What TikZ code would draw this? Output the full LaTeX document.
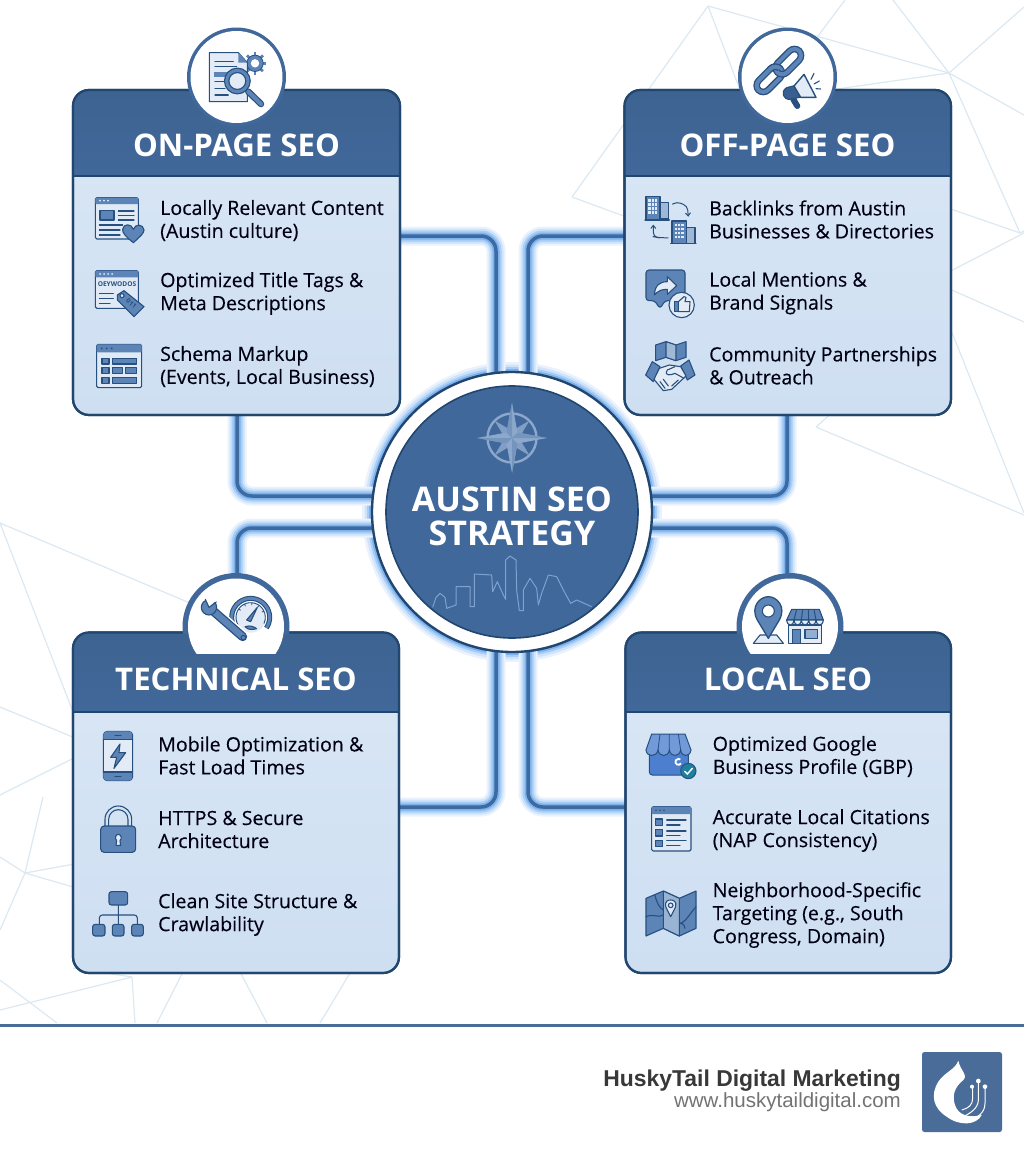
\documentclass[tikz,border=0pt]{standalone}
\usepackage{fontspec}
\setmainfont{Open Sans}
\newfontfamily\itemf[FakeBold=0.25]{Open Sans}
\newfontfamily\footf{Liberation Sans}
\usetikzlibrary{arrows.meta}
\definecolor{head}{HTML}{41689A}
\definecolor{headT}{HTML}{3D6391}
\definecolor{edge}{HTML}{21466F}
\definecolor{bodyT}{HTML}{DAE7F5}
\definecolor{bodyB}{HTML}{CEDFF2}
\definecolor{iconD}{HTML}{27507F}
\definecolor{iconM}{HTML}{5C84B6}
\definecolor{iconL}{HTML}{E3ECF6}
\definecolor{net}{HTML}{DCE9F2}
\definecolor{core}{HTML}{3D6A9F}
\definecolor{sky}{HTML}{7FA2CF}
\definecolor{star}{HTML}{8CA8CC}
\definecolor{gbp}{HTML}{4C7FCE}
\definecolor{foot}{HTML}{4A6C98}
\definecolor{glowA}{HTML}{EAF3FD}
\definecolor{glowB}{HTML}{CFE3FA}
\definecolor{glowC}{HTML}{A8CEF5}
\definecolor{glowD}{HTML}{7DB2EE}
\tikzset{
  Z/.style 2 args={shift={(#1,#2)},x=.33333pt,y=-.33333pt},
  il/.style={draw=iconD,line width=1.1pt,line join=round,line cap=round},
  im/.style={il,fill=iconM},
  ill/.style={il,fill=iconL},
  idk/.style={il,fill=iconD},
  nl/.style={draw=net,line width=1.2pt},
  wire/.style={draw=core,line width=3.5pt,rounded corners=15pt,
    preaction={draw=glowA,line width=19pt},
    preaction={draw=glowB,line width=15pt},
    preaction={draw=glowC,line width=11pt},
    preaction={draw=glowD,line width=7pt}},
  cardbox/.style={rectangle,rounded corners=16pt,draw=edge,line width=2.2pt,
    top color=bodyT,bottom color=bodyB,inner sep=0pt,outer sep=0pt,anchor=north west},
  cardtitle/.style={text=white,font=\bfseries\fontsize{31.2}{33}\selectfont,anchor=base,inner sep=0pt},
  hubtitle/.style={anchor=base,text=white,inner sep=0pt,font=\bfseries\fontsize{34}{36}\selectfont},
  itemtext/.style={align=left,anchor=west,inner sep=0pt,text=black!92!blue,
    font=\itemf\fontsize{19.6}{23}\selectfont},
  ringo/.style={circle,fill=head,inner sep=0pt,outer sep=0pt},
  ringi/.style={circle,fill=white,inner sep=0pt,outer sep=0pt}
}
\pgfdeclarelayer{back}
\pgfsetlayers{back,main}
\newcommand{\mkcard}[7]{% name x1 y1 x2 y2 div title
  \pgfmathsetmacro{\cw}{#4-#2}\pgfmathsetmacro{\ch}{#5-#3}
  \node[cardbox,minimum width=\cw pt,minimum height=\ch pt] (#1) at (#2,#3) {};
  \begin{scope}
    \clip[rounded corners=16pt] (#2,#3) rectangle (#4,#5);
    \fill[top color=headT,bottom color=head] (#2,#3) rectangle (#4,#6);
    \draw[edge,line width=1.8pt] (#2,#6) -- (#4,#6);
  \end{scope}
  \draw[edge,line width=2.2pt,rounded corners=16pt] (#2,#3) rectangle (#4,#5);
}
\newcommand{\gearI}[3]{%
  \foreach \a in {0,45,...,315}{\draw[iconM,line width=2.8pt] (#1,#2) ++(\a:#3*0.7) -- ++(\a:#3*0.42);}
  \draw[iconD,fill=iconM,line width=.8pt] (#1,#2) circle[radius=#3*0.82];
  \fill[white] (#1,#2) circle[radius=#3*0.42];
}
\begin{document}
\begin{tikzpicture}[x=1pt,y=-1pt]
\useasboundingbox (0,0) rectangle (1024,1154);
% ---------- cards, hub ----------
\mkcard{onpage}{73}{90}{400}{415}{176}{}
\mkcard{offpage}{624.5}{90}{951}{415}{176}{}
\mkcard{technical}{73}{632.5}{399}{973}{712}{}
\mkcard{local}{625.5}{632.5}{951}{973}{712}{}
% rings
\node[ringo,minimum size=99pt] (ring1) at (236.5,77) {};
\node[ringi,minimum size=92pt] (ring1i) at (236.5,77) {};
\node[ringo,minimum size=99pt] (ring2) at (787.5,77) {};
\node[ringi,minimum size=92pt] (ring2i) at (787.5,77) {};
\begin{scope}
  \clip (100,560) rectangle (400,633);
  \node[ringo,minimum size=107pt] (ring3) at (236,626.5) {};
\end{scope}
\begin{scope}
  \clip (700,560) rectangle (900,633);
  \node[ringo,minimum size=107pt] (ring4) at (790,626.5) {};
\end{scope}
\begin{scope}
  \clip (100,560) rectangle (900,653);
  \node[ringi,minimum size=96pt] (ring3i) at (236,626.5) {};
  \node[ringi,minimum size=96pt] (ring4i) at (790,626.5) {};
\end{scope}
% titles
\node[cardtitle] (t1) at (236.5,156) {ON-PAGE SEO};
\node[cardtitle] (t2) at (787.5,156) {OFF-PAGE SEO};
\node[cardtitle] (t3) at (236,690) {TECHNICAL SEO};
\node[cardtitle] (t4) at (788,690) {LOCAL SEO};
% items
\node[itemtext] (a1) at (160,220.5) {Locally Relevant Content\\(Austin culture)};
\node[itemtext] (a2) at (160,293.5) {Optimized Title Tags \&\\Meta Descriptions};
\node[itemtext] (a3) at (160,366.5) {Schema Markup\\(Events, Local Business)};
\node[itemtext] (b1) at (709,219.5) {Backlinks from Austin\\Businesses \& Directories};
\node[itemtext] (b2) at (709,293) {Local Mentions \&\\Brand Signals};
\node[itemtext] (b3) at (709,365.5) {Community Partnerships\\\& Outreach};
\node[itemtext] (c1) at (158,755.5) {Mobile Optimization \&\\Fast Load Times};
\node[itemtext] (c2) at (158,829.5) {HTTPS \& Secure\\Architecture};
\node[itemtext] (c3) at (158,914.5) {Clean Site Structure \&\\Crawlability};
\node[itemtext] (d1) at (712.5,756.5) {Optimized Google\\Business Profile (GBP)};
\node[itemtext] (d2) at (712.5,830.5) {Accurate Local Citations\\(NAP Consistency)};
\node[itemtext] (d3) at (712.5,915) {Neighborhood-Specific\\Targeting (e.g., South\\Congress, Domain)};
% hub
\node[circle,minimum size=280pt,fill=white,draw=edge,line width=2.4pt,inner sep=0pt,outer sep=0pt] (hub) at (512,512) {};
\node[circle,minimum size=252pt,fill=head,draw=edge,line width=1.6pt,inner sep=0pt,outer sep=0pt] (hubdisc) at (512,512) {};
\node[hubtitle] (h1) at (512,511) {AUSTIN SEO};
\node[hubtitle] (h2) at (512,545) {STRATEGY};
% compass
\begin{scope}[shift={(512,438)}]
  \draw[star,line width=2.4pt] (0,0) circle[radius=24.5];
  \fill[head] (0,0) circle[radius=13];
  \foreach \r in {45,135,225,315}{
    \fill[star!85!head,rotate=\r] (0,-25) -- (5,-5) -- (-5,-5) -- cycle;}
  \fill[star] (0,-35) -- (5.5,-5.5) -- (35,0) -- (5.5,5.5) -- (0,35) -- (-5.5,5.5) -- (-35,0) -- (-5.5,-5.5) -- cycle;
  \fill[star!70!head] (0,-35) -- (0,0) -- (-5.5,-5.5) -- cycle (35,0) -- (0,0) -- (5.5,-5.5) -- cycle
    (0,35) -- (0,0) -- (5.5,5.5) -- cycle (-35,0) -- (0,0) -- (-5.5,5.5) -- cycle;
\end{scope}
% skyline
\begin{scope}[Z={360}{360}]
  \draw[sky,line width=1pt,line join=round] (218,742) -- (228,712) -- (240,700) -- (255,712) -- (260,745) -- (288,735) -- (288,680) -- (330,680) -- (330,740) -- (343,740) -- (343,642) -- (395,645) -- (398,695) -- (412,665) -- (430,705) -- (437,718) -- (437,600) -- (450,588) -- (468,600) -- (470,690) -- (478,752) -- (490,752) -- (490,690) -- (510,655) -- (530,685) -- (535,735) -- (545,700) -- (565,645) -- (590,650) -- (610,690) -- (632,730) -- (650,720) -- (695,740);
\end{scope}
% ---------- on-page icons ----------
\begin{scope}[Z={60}{20}]
  % doc
  \gearI{585}{130}{30}
  \draw[ill] (448,98) -- (535,98) -- (562,128) -- (562,245) -- (448,245) -- cycle;
  \fill[iconM] (535,98) -- (562,128) -- (535,128) -- cycle;
  \foreach \yy/\xx in {125/520,140/530,185/495,205/495,225/505}{\draw[il] (465,\yy) -- (\xx,\yy);}
  \fill[iconM] (462,155) rectangle (512,172);
  \draw[iconD,line width=6.5pt,line cap=round] (565,215) -- (603,252);
  \draw[iconM,line width=4.2pt,line cap=round] (565,215) -- (603,252);
  \draw[iconD,fill=iconL,line width=5.5pt] (532,183) circle[radius=32];
  \draw[iconM,line width=3pt] (532,183) circle[radius=32];
  % browser + heart
  \draw[il,fill=iconL!60!bodyT,rounded corners=1.5pt] (106,533) rectangle (235,657);
  \fill[iconM,rounded corners=1pt] (106,533) rectangle (235,552);
  \foreach \xx in {120,132,144}{\fill[iconL] (\xx,542) circle[radius=3];}
  \draw[il,fill=iconM] (120,572) rectangle (162,600);
  \foreach \yy in {573,587,600}{\draw[il] (175,\yy) -- (222,\yy);}
  \foreach \yy/\xx in {615/188,630/180,645/180}{\draw[il] (118,\yy) -- (\xx,\yy);}
  \draw[im] (220,668) .. controls (195,648) and (187,638) .. (188,628) .. controls (190,610) and (215,610) .. (220,628) .. controls (226,610) and (250,612) .. (252,630) .. controls (252,640) and (240,650) .. (220,668) -- cycle;
  % keywords browser
  \draw[il,fill=iconL!60!bodyT,rounded corners=1.5pt] (106,752) rectangle (235,865);
  \fill[iconM,rounded corners=1pt] (106,752) rectangle (235,772);
  \foreach \xx in {120,132,144,156}{\fill[iconL] (\xx,762) circle[radius=3];}
  \node[inner sep=0pt,text=iconD,font=\bfseries\fontsize{6.6}{7}\selectfont] (kw) at (171,793) {OEYWODOS};
  \foreach \yy/\xx in {820/160,835/160,850/150}{\draw[il] (118,\yy) -- (\xx,\yy);}
  \draw[im] (172,825) -- (192,812) -- (252,860) -- (222,890) -- (172,840) -- cycle;
  \draw[il,fill=iconL] (186,827) circle[radius=6];
  \node[inner sep=0pt,text=iconD,rotate=-40,font=\bfseries\fontsize{6.5}{7}\selectfont] (tg) at (214,851) {011};
  % schema window
  \draw[il,fill=iconL!60!bodyT,rounded corners=1.5pt] (110,973) rectangle (245,1103);
  \fill[iconM,rounded corners=1pt] (110,973) rectangle (245,997);
  \foreach \xx in {125,140,155}{\fill[iconD] (\xx,985) circle[radius=3];}
  \foreach \aa/\bb/\cc/\dd in {126/1015/147/1032,157/1015/230/1032,126/1043/147/1060,157/1043/188/1060,196/1043/230/1060,126/1072/147/1090,157/1072/230/1090}{\draw[im] (\aa,\bb) rectangle (\cc,\dd);}
\end{scope}
% ---------- off-page icons ----------
\begin{scope}[Z={610}{20}]
  \foreach \cx/\cy in {478/178,535/125}{
    \begin{scope}[shift={(\cx,\cy)},rotate=45]
      \draw[iconD,line width=6.6pt,rounded corners=7pt] (-46,-20) rectangle (46,20);
      \draw[iconM,line width=4pt,rounded corners=7pt] (-46,-20) rectangle (46,20);
    \end{scope}}
  \begin{scope}[shift={(478,178)},rotate=45]
    \clip (20,-30) rectangle (60,0);
    \draw[iconD,line width=6.6pt,rounded corners=7pt] (-46,-20) rectangle (46,20);
    \draw[iconM,line width=4pt,rounded corners=7pt] (-46,-20) rectangle (46,20);
  \end{scope}
  % megaphone
  \draw[iconD,line width=6pt,line cap=round] (550,238) -- (562,258);
  \draw[im,fill=iconD!70!iconM] (553,197) -- (530,203) .. controls (510,215) and (520,240) .. (540,238) -- (570,232) -- cycle;
  \draw[il,fill=iconL,line width=1.4pt] (552,198) -- (582,163) -- (618,232) -- (572,232) -- cycle;
  \draw[iconD,line width=1.1pt,line cap=round] (603,178) -- (612,160) (612,192) -- (628,183) (618,206) -- (632,207);
  % buildings
  \draw[im] (108,530) rectangle (150,600);
  \draw[il,fill=iconL!50!iconM] (150,548) rectangle (175,597);
  \draw[il] (105,600) -- (178,600);
  \foreach \xx in {115,125,135}{\foreach \yy in {538,550,562,574}{\fill[iconL] (\xx,\yy) rectangle ++(7,7);}}
  \draw[im] (186,603) rectangle (230,670);
  \draw[il,fill=iconL!50!iconM] (230,622) rectangle (255,670);
  \draw[il] (182,670) -- (258,670);
  \foreach \xx in {194,204,214}{\foreach \yy in {612,624,636,648}{\fill[iconL] (\xx,\yy) rectangle ++(7,7);}}
  \draw[iconD,line width=1pt,-{Straight Barb[length=3pt,width=5pt]},rounded corners=4pt] (187,553) -- (200,545) -- (232,558) -- (235,590);
  \draw[iconD,line width=1pt,-{Straight Barb[length=3pt,width=5pt]},rounded corners=4pt] (175,654) -- (140,652) -- (130,650) -- (130,614);
  % share + thumb
  \draw[im,rounded corners=3pt] (108,750) -- (225,750) -- (225,842) -- (165,842) -- (150,866) -- (134,842) -- (108,842) -- cycle;
  \draw[il,fill=iconL] (133,825) .. controls (135,795) and (150,785) .. (172,785) -- (172,770) -- (200,797) -- (172,823) -- (172,808) .. controls (155,808) and (145,812) .. (133,825) -- cycle;
  \draw[il,fill=iconL] (215,855) circle[radius=38];
  \draw[im] (193,845) rectangle (205,875);
  \draw[ill] (205,845) -- (222,830) -- (228,832) -- (225,845) -- (240,845) -- (238,875) -- (205,875) -- cycle;
  % community
  \draw[im] (137,975) -- (168,965) -- (198,975) -- (228,965) -- (228,1012) -- (198,1022) -- (168,1012) -- (137,1022) -- cycle;
  \draw[il,fill=iconL!50!iconM] (168,965) -- (198,975) -- (198,1022) -- (168,1012) -- cycle;
  \draw[im] (107,1065) -- (127,1025) -- (150,1040) -- (130,1085) -- cycle;
  \draw[im] (212,1038) -- (237,1020) -- (255,1065) -- (232,1080) -- cycle;
  \draw[ill] (148,1045) -- (178,1035) -- (212,1040) -- (228,1068) -- (185,1108) -- (160,1112) -- (132,1078) -- cycle;
  \draw[il] (172,1050) -- (195,1040) (172,1050) .. controls (160,1070) and (185,1065) .. (195,1060) -- (222,1075) (205,1080) -- (185,1098) (150,1085) -- (165,1105) (160,1078) -- (175,1098);
\end{scope}
% ---------- technical icons ----------
\begin{scope}[Z={60}{570}]
  % gauge
  \fill[iconL] (572,142) circle[radius=46];
  \draw[iconD,line width=5pt] (572,142) ++(143:57) arc[start angle=143,end angle=394,radius=57];
  \draw[iconM,line width=2.8pt] (572,142) ++(143:57) arc[start angle=143,end angle=394,radius=57];
  \draw[iconD,line width=.9pt] (572,142) ++(150:44) arc[start angle=150,end angle=385,radius=44];
  \foreach \a in {215,245,275,305,335}{\draw[iconD,line width=.8pt] (572,142) ++(\a:44) -- ++(\a:-7);}
  \draw[im] (560,150) -- (592,112) -- (572,155) -- cycle;
  \draw[im] (555,170) .. controls (570,165) and (582,170) .. (590,176) .. controls (575,180) and (565,180) .. (555,170) -- cycle;
  % wrench
  \draw[white,line width=12pt,line cap=round] (462,125) -- (548,200);
  \draw[iconD,line width=9pt,line cap=round] (447,112) -- (548,200);
  \draw[iconM,line width=6.4pt,line cap=round] (447,112) -- (548,200);
  \draw[im] (447,112) circle[radius=23];
  \fill[white] (447,112) -- (432,76) -- (478,82) -- cycle;
  \draw[il] (436,88) -- (447,112) -- (469,96);
  \draw[iconD,line width=1pt] (550,203) circle[radius=7];
  % phone
  \draw[ill,rounded corners=4pt] (130,484) rectangle (218,632);
  \begin{scope}
    \clip[rounded corners=4pt] (130,484) rectangle (218,632);
    \fill[iconM] (130,484) rectangle (218,509);
    \fill[iconM] (130,606) rectangle (218,632);
  \end{scope}
  \draw[il] (130,509) -- (218,509) (130,606) -- (218,606) (165,496) -- (183,496) (165,619) -- (183,619);
  \draw[im] (180,522) -- (152,562) -- (170,562) -- (162,595) -- (197,548) -- (177,548) -- cycle;
  % lock
  \draw[il] (135,768) -- (135,748) arc[start angle=180,end angle=360,radius=40] -- (215,768);
  \draw[il] (146,768) -- (146,748) arc[start angle=180,end angle=360,radius=29] -- (204,768);
  \draw[im,rounded corners=3.5pt] (122,768) rectangle (227,847);
  \draw[ill] (170,812) -- (168,826) -- (182,826) -- (180,812) .. controls (187,805) and (183,793) .. (175,793) .. controls (167,793) and (163,805) .. (170,812) -- cycle;
  % sitemap
  \draw[il] (175,1005) -- (175,1065) (118,1063) -- (118,1045) [rounded corners=3pt] -- (118,1035) -- (232,1035) -- (232,1063);
  \draw[im,rounded corners=2.5pt] (147,965) rectangle (203,1005);
  \draw[im,rounded corners=2.5pt] (98,1063) rectangle (135,1098);
  \draw[im,rounded corners=2.5pt] (157,1063) rectangle (192,1098);
  \draw[im,rounded corners=2.5pt] (215,1063) rectangle (250,1098);
\end{scope}
% ---------- local icons ----------
\begin{scope}[Z={610}{570}]
  % pin
  \draw[il,fill=iconL] (430,220) -- (450,195) -- (500,195) -- (520,220) -- cycle;
  \draw[im,line width=1.3pt] (475,205) -- (442,150) .. controls (420,110) and (450,80) .. (475,80) .. controls (500,80) and (530,110) .. (508,150) -- cycle;
  \draw[il,fill=white] (475,123) circle[radius=18];
  % store
  \draw[ill] (535,165) rectangle (635,220);
  \draw[im] (548,178) rectangle (572,220);
  \draw[il,fill=iconL!40!iconM] (585,178) rectangle (622,205);
  \draw[im] (545,118) -- (628,118) -- (640,150) -- (530,150) -- cycle;
  \draw[il,fill=iconL] (530,150) .. controls (532,170) and (550,170) .. (552,150) .. controls (554,170) and (572,170) .. (574,150) .. controls (576,170) and (594,170) .. (596,150) .. controls (598,170) and (616,170) .. (618,150) .. controls (620,170) and (638,170) .. (640,150) -- cycle;
  \foreach \xa/\xb in {560/552,578/574,595/596,612/618}{\draw[iconD,line width=1pt] (\xa,118) -- (\xb,150);}
  % GBP
  \draw[iconD,line width=1pt,fill=gbp,rounded corners=3pt] (118,535) rectangle (235,615);
  \draw[iconD,line width=1pt,fill=gbp!75!iconL] (125,492) -- (225,492) -- (243,540) .. controls (240,562) and (215,562) .. (212,540) .. controls (208,562) and (182,562) .. (178,540) .. controls (175,562) and (148,562) .. (144,540) .. controls (140,562) and (110,562) .. (108,540) -- cycle;
  \draw[iconD,line width=.8pt] (150,492) -- (144,540) (178,492) -- (178,540) (205,492) -- (212,540);
  \draw[white,line width=1.8pt] (213,580) arc[start angle=30,end angle=310,radius=9];
  \draw[iconD,line width=1pt,fill=teal!60!gbp] (235,603) circle[radius=23];
  \draw[white,line width=1.4pt,line cap=round] (224,604) -- (232,612) -- (247,595);
  % citations
  \draw[il,fill=iconL!60!bodyT,rounded corners=1.5pt] (125,710) rectangle (243,843);
  \fill[iconM,rounded corners=1pt] (125,710) rectangle (243,732);
  \foreach \xx in {138,150,162}{\fill[iconD] (\xx,721) circle[radius=2.6];}
  \foreach \yy in {747,779,811}{\draw[im] (137,\yy) rectangle ++(21,19);}
  \foreach \yy/\xx in {750/228,765/210,783/228,797/210,812/228,826/210}{\draw[il] (170,\yy) -- (\xx,\yy);}
  % map
  \draw[im] (108,985) -- (160,963) -- (208,985) -- (258,963) -- (258,1075) -- (208,1098) -- (160,1075) -- (108,1098) -- cycle;
  \draw[il,fill=iconL!45!iconM] (160,963) -- (208,985) -- (208,1098) -- (160,1075) -- cycle;
  \draw[il] (108,1040) .. controls (130,1030) and (145,1045) .. (160,1035) (208,1060) .. controls (225,1060) and (240,1030) .. (258,1010) (225,1075) .. controls (222,1060) and (215,1060) .. (208,1060) (135,975) .. controls (140,1000) and (150,1015) .. (160,1020);
  \draw[il,fill=iconL!60!bodyT] (182,1040) -- (168,1012) .. controls (162,992) and (176,990) .. (182,990) .. controls (188,990) and (202,992) .. (196,1012) -- cycle;
  \draw[il] (182,1006) circle[radius=7];
\end{scope}
% ---------- footer ----------
\fill[foot] (0,1023.5) rectangle (1024,1026.5);
\node[anchor=base east,inner sep=0pt,text=black!78,font=\footf\bfseries\fontsize{22.9}{26}\selectfont] (brand) at (901,1086) {HuskyTail Digital Marketing};
\node[anchor=base east,inner sep=0pt,text=black!55,font=\footf\fontsize{20.5}{23}\selectfont] (url) at (901,1107) {www.huskytaildigital.com};
\node[rectangle,rounded corners=2.5pt,fill=foot,minimum size=80pt,inner sep=0pt,outer sep=0pt] (logo) at (962,1092) {};
\begin{scope}[Z={580}{1020}]
  \fill[white] (1135,122) .. controls (1140,150) and (1165,165) .. (1150,180) .. controls (1125,200) and (1115,225) .. (1125,255) .. controls (1135,285) and (1165,295) .. (1205,285) .. controls (1190,315) and (1140,320) .. (1100,290) .. controls (1060,265) and (1050,225) .. (1075,185) .. controls (1095,155) and (1125,150) .. (1135,122) -- cycle;
  \draw[white,line width=1pt] (1195,185) -- (1195,240) .. controls (1195,265) and (1170,280) .. (1150,290) (1178,200) -- (1178,235) (1178,235) .. controls (1178,255) and (1165,265) .. (1145,270) (1215,200) -- (1215,250) .. controls (1215,280) and (1190,295) .. (1165,300);
  \fill[white] (1195,183) circle[radius=7] (1176,200) circle[radius=6] (1215,200) circle[radius=7];
\end{scope}
% ---------- back layer ----------
\begin{pgfonlayer}{back}
  \fill[white] (0,0) rectangle (1024,1154);
  % network, top right
  \coordinate (nA) at (708,6); \coordinate (nB) at (949,73); \coordinate (nC) at (572,197);
  \draw[nl] (nA) -- (nB) (nA) -- (nC) (nA) -- (740,90) (nC) -- (640,222);
  \draw[nl] (845,0) -- (800,60) (893,0) -- (nB) (1024,7) -- (nB) (nB) -- (1024,115) (nB) -- (830,90) (nB) -- (1020,233);
  \draw[nl] (945,207) -- (1020,233) -- (1024,231) (945,274) -- (1024,233) (945,287) -- (1024,322) (945,315) -- (1024,513) (816,427) -- (1024,515) (816,427) -- (835,410);
  % network, left
  \draw[nl] (0,523) -- (190,603) (0,523) -- (80,730) (0,707) -- (80,740) (80,755) -- (0,795);
  \draw[nl] (43,797) -- (25,873) -- (0,930) (0,857) -- (25,873) -- (80,889) (25,873) -- (80,863);
  \draw[nl] (132,977) -- (0,1010) (132,977) -- (135,1023) (0,980) -- (57,1023) (185,968) -- (157,1023) (238,968) -- (267,1023) (353,968) -- (320,1023) (73,968) -- (132,977);
  % hub glow
  \fill[glowA] (hub.center) circle[radius=150];
  \fill[glowB] (hub.center) circle[radius=147.5];
  \fill[glowC] (hub.center) circle[radius=145];
  \fill[glowD] (hub.center) circle[radius=143];
  % connectors
  \coordinate (j1) at (496,236); \coordinate (j2) at (528,236);
  \coordinate (j3) at (237,496); \coordinate (j4) at (787,496);
  \coordinate (j5) at (237,528); \coordinate (j6) at (787,528);
  \coordinate (j7) at (496,807); \coordinate (j8) at (528,807);
  \draw[wire] (onpage.east |- j1) -- (j1) -- (j1 |- hub.100);
  \draw[wire] (offpage.west |- j2) -- (j2) -- (j2 |- hub.80);
  \draw[wire] (j3 |- onpage.south) -- (j3) -- (hub.170 |- j3);
  \draw[wire] (j4 |- offpage.south) -- (j4) -- (hub.10 |- j4);
  \draw[wire] (j5 |- ring3.north) -- (j5) -- (hub.190 |- j5);
  \draw[wire] (j6 |- ring4.north) -- (j6) -- (hub.-10 |- j6);
  \draw[wire] (technical.east |- j7) -- (j7) -- (j7 |- hub.260);
  \draw[wire] (local.west |- j8) -- (j8) -- (j8 |- hub.-80);
\end{pgfonlayer}
\end{tikzpicture}
\end{document}
